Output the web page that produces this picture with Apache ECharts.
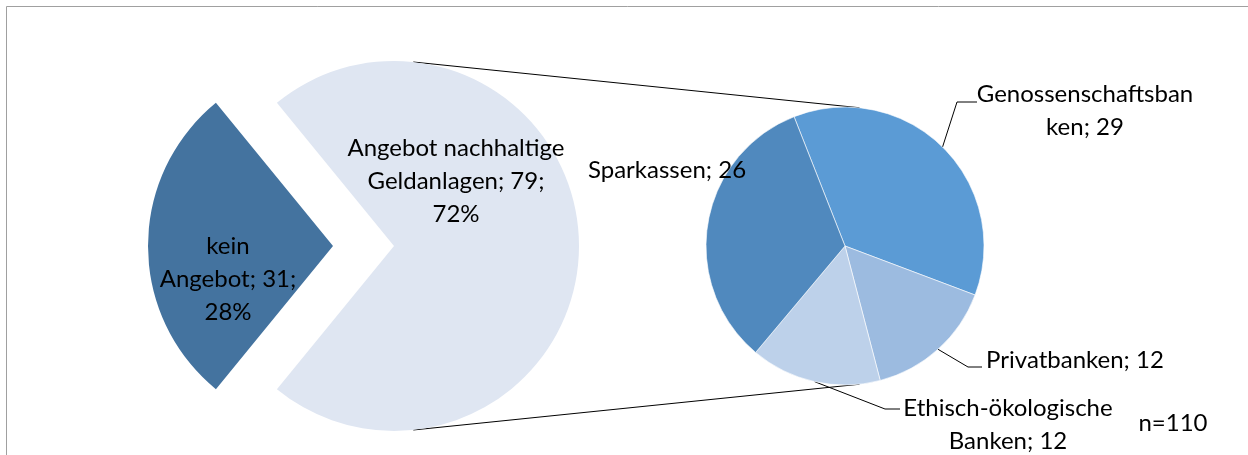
<!DOCTYPE html>
<html><head><meta charset="utf-8">
<script src="https://cdn.jsdelivr.net/npm/echarts@6/dist/echarts.min.js"></script>
<style>html,body{margin:0;padding:0;background:#fff}#c{width:1248px;height:455px}</style>
</head><body><div id="c"></div>
<script>
// ---- data ----
const mainCategories = ['kein Angebot', 'Angebot nachhaltige Geldanlagen'];
const mainLabels = ['kein\nAngebot', 'Angebot nachhaltige\nGeldanlagen'];
const mainValues = [31, 79];
const subCategories = ['Genossenschaftsbanken', 'Privatbanken', 'Ethisch-ökologische Banken', 'Sparkassen'];
const subLabels = ['Genossenschaftsban\nken', 'Privatbanken', 'Ethisch-ökologische\nBanken', 'Sparkassen'];
const subValues = [29, 12, 12, 26];
const sampleNote = 'n=110';

// ---- styles / layout ----
const mainColors = ['#44739f', '#dfe6f2'];
const subColors = ['#5b9bd5', '#9cbbe0', '#bdd1ea', '#5089be'];
const FONT = 'Lato, "Open Sans", sans-serif';
const FS = 24, LH = 33;
const MAIN = {cx: 394, cy: 246, r: 185};
const EXPLODE = [61, 0];           // radial offset of each main slice
const SUB = {cx: 845, cy: 246, r: 139};
const LINK_ANGLE = 84 * Math.PI / 180;
const SUB_START = 111.5;

// label anchor positions keyed by "series-dataIndex"
const LABEL_POS = {
  '0-0': {x: 228, y: 279},
  '1-1': {x: 456, y: 181},
  '2-0': {x: 1085, y: 111, line: [[957, 102], [977, 102]]},
  '2-1': {x: 1075, y: 360, line: [[968, 367], [982, 367]]},
  '2-2': {x: 1008, y: 425, line: [[885, 409], [900, 409]]},
  '2-3': {x: 667, y: 170}
};

const sum = a => a.reduce((s, v) => s + v, 0);
const mainTotal = sum(mainValues);
const mainStart = 180 + mainValues[0] / mainTotal * 360 / 2;

const textStyle = {color: '#000', fontFamily: FONT, fontSize: FS, lineHeight: LH, align: 'center'};

const chart = echarts.init(document.getElementById('c'), null, {renderer: 'canvas'});

function pt(c, r, ang, sign) {
  return [c.cx + r * Math.cos(ang), c.cy - sign * r * Math.sin(ang)];
}
const topA = pt(MAIN, MAIN.r, LINK_ANGLE, 1), topB = pt(SUB, SUB.r, LINK_ANGLE, 1);
const botA = pt(MAIN, MAIN.r, LINK_ANGLE, -1), botB = pt(SUB, SUB.r, LINK_ANGLE, -1);

function labelLayout(p) {
  const pos = LABEL_POS[p.seriesIndex + '-' + p.dataIndex];
  if (!pos) return {};
  const out = {x: pos.x, y: pos.y, align: 'center', verticalAlign: 'middle'};
  if (pos.line && p.labelLinePoints && p.labelLinePoints.length) {
    out.labelLinePoints = [p.labelLinePoints[0], pos.line[0], pos.line[1]];
  }
  return out;
}

// one pie layer per main slice, so each slice can be exploded on its own
function mainLayer(k) {
  // mid-angle of slice k (degrees, math convention)
  let acc = 0;
  for (let i = 0; i < k; i++) acc += mainValues[i];
  const mid = (mainStart - (acc + mainValues[k] / 2) / mainTotal * 360) * Math.PI / 180;
  const cx = MAIN.cx + EXPLODE[k] * Math.cos(mid);
  const cy = MAIN.cy - EXPLODE[k] * Math.sin(mid);
  return {
    type: 'pie', center: [cx, cy], radius: MAIN.r,
    startAngle: mainStart, clockwise: true,
    avoidLabelOverlap: false, silent: true,
    emphasis: {disabled: true},
    data: mainCategories.map((n, i) => ({
      name: n, value: mainValues[i],
      itemStyle: {color: i === k ? mainColors[i] : 'rgba(0,0,0,0)'},
      label: {show: i === k}
    })),
    label: Object.assign({show: true, position: 'inside',
      formatter: p => mainLabels[p.dataIndex] + '; ' + p.value + ';\n' + Math.round(p.value / mainTotal * 100) + '%'}, textStyle),
    labelLine: {show: false},
    labelLayout: labelLayout
  };
}

chart.setOption({
  animation: false,
  backgroundColor: '#fff',
  graphic: [
    {type: 'rect', shape: {x: 6.5, y: 6.5, width: 1400, height: 600}, style: {fill: 'none', stroke: '#a0a0a0', lineWidth: 1}, silent: true, z: -1},
    {type: 'line', shape: {x1: topA[0], y1: topA[1], x2: topB[0], y2: topB[1]}, style: {stroke: '#000', lineWidth: 1}, silent: true, z: -1},
    {type: 'line', shape: {x1: botA[0], y1: botA[1], x2: botB[0], y2: botB[1]}, style: {stroke: '#000', lineWidth: 1}, silent: true, z: -1},
    {type: 'text', x: 1173, y: 423, style: {text: sampleNote, font: FS + 'px ' + FONT, fill: '#000', align: 'center', verticalAlign: 'middle'}, silent: true}
  ],
  series: [
    mainLayer(0),
    mainLayer(1),
    {
      type: 'pie', center: [SUB.cx, SUB.cy], radius: SUB.r,
      startAngle: SUB_START, clockwise: true,
      avoidLabelOverlap: false, silent: true,
      emphasis: {disabled: true},
      itemStyle: {borderColor: '#fff', borderWidth: 0.6},
      data: subCategories.map((n, i) => ({
        name: n, value: subValues[i],
        itemStyle: {color: subColors[i]},
        labelLine: {show: i !== 3}
      })),
      label: Object.assign({show: true, position: 'outside',
        formatter: p => subLabels[p.dataIndex] + '; ' + p.value}, textStyle),
      labelLine: {show: true, length: 15, length2: 15, lineStyle: {color: '#000', width: 1}},
      labelLayout: labelLayout
    }
  ]
});
</script></body></html>
